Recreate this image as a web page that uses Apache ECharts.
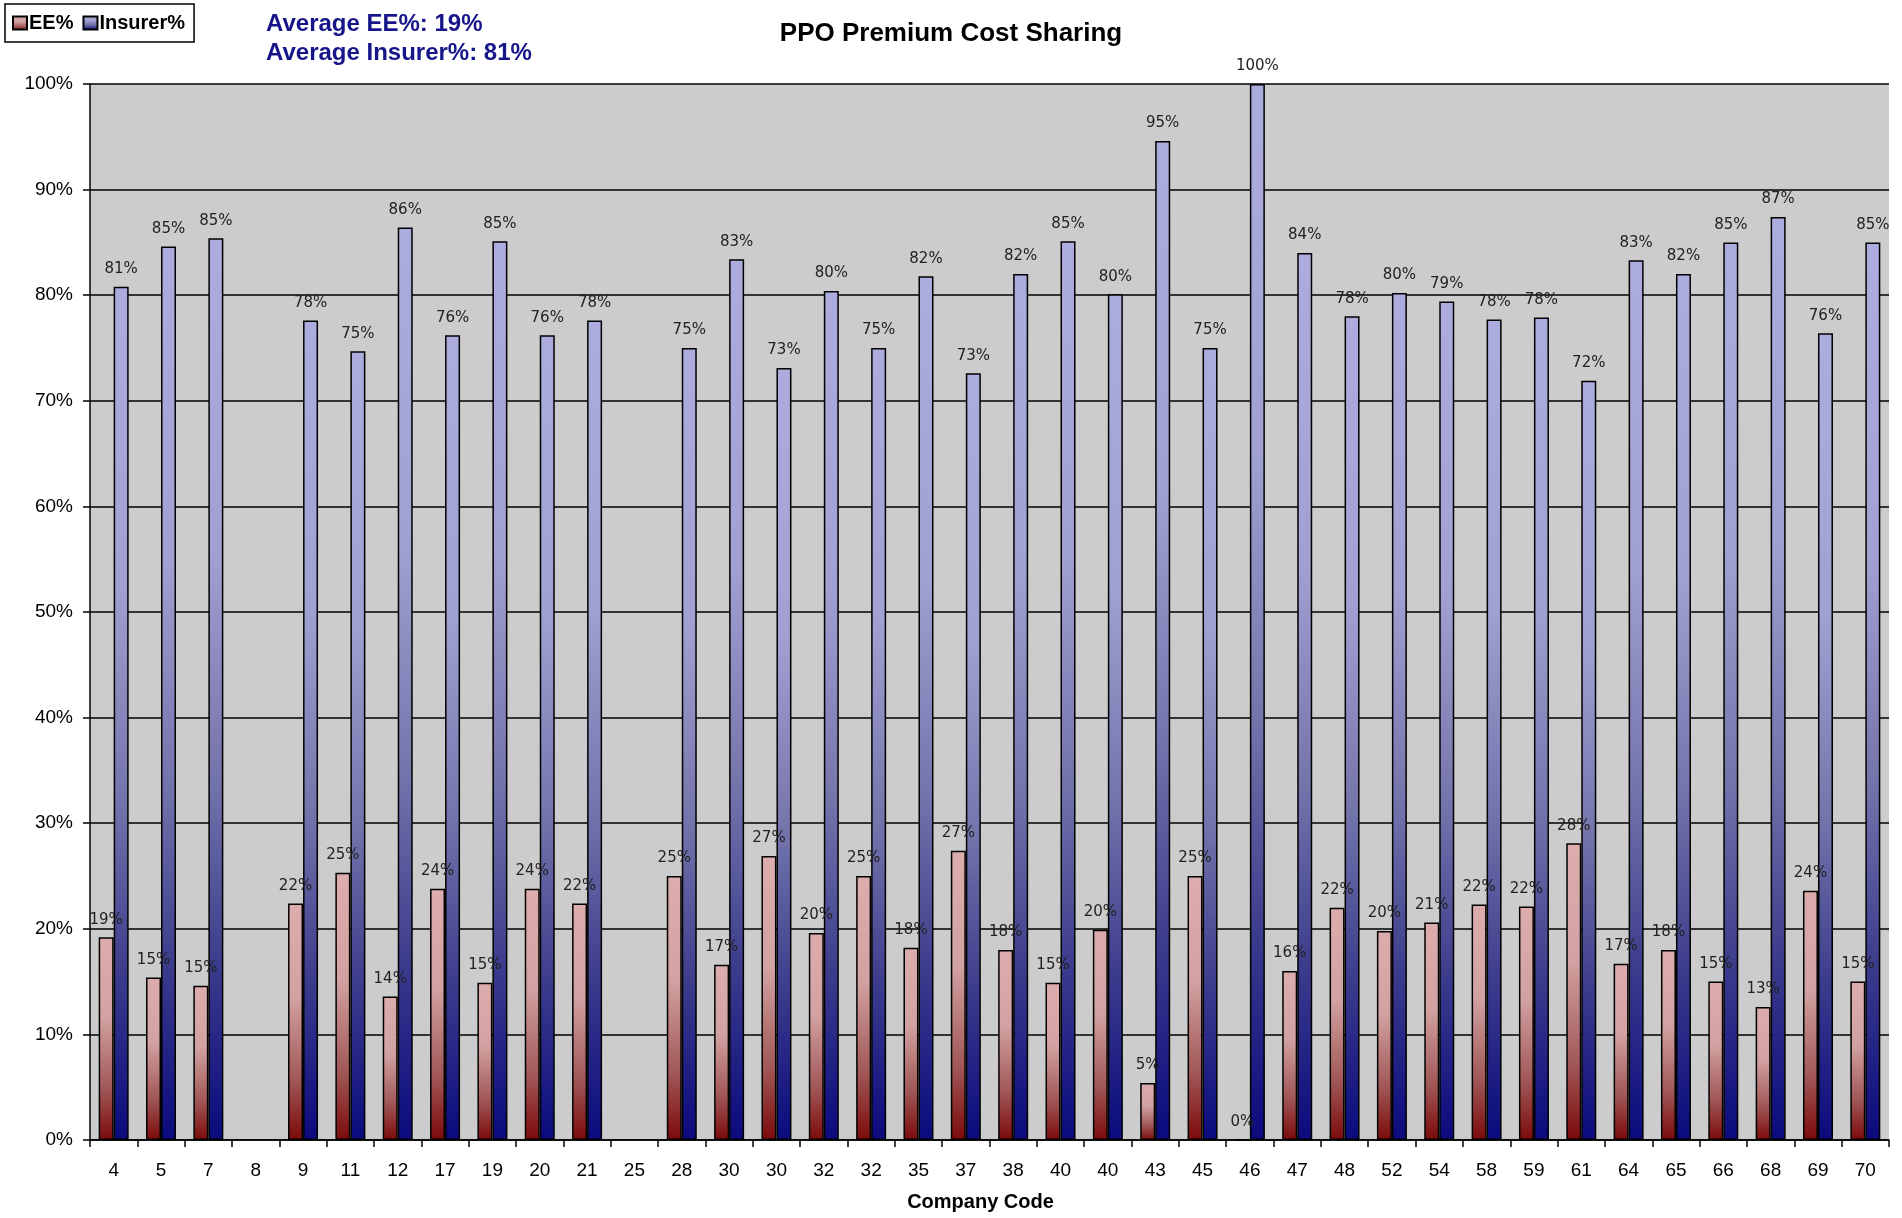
<!DOCTYPE html>
<html>
<head>
<meta charset="utf-8">
<title>PPO Premium Cost Sharing</title>
<script src="https://cdn.jsdelivr.net/npm/echarts@6/dist/echarts.min.js"></script>
<style>
  html, body { margin: 0; padding: 0; background: #fff; }
  #main { width: 1902px; height: 1218px; }
</style>
</head>
<body>
<div id="main"></div>
<script>
// company codes (some repeat, one bar pair per plan)
var companyCodes = ['4', '5', '7', '8', '9', '11', '12', '17', '19', '20', '21', '25', '28', '30', '30', '32', '32', '35', '37', '38',
                    '40', '40', '43', '45', '46', '47', '48', '52', '54', '58', '59', '61', '64', '65', '66', '68', '69', '70'];
// employee share of premium, %
var eePct = [19.2, 15.4, 14.6, null, 22.4, 25.3, 13.6, 23.8, 14.9, 23.8, 22.4, null, 25.0, 16.6, 26.9, 19.6, 25.0, 18.2, 27.4, 18.0,
             14.9, 19.9, 5.4, 25.0, 0, 16.0, 22.0, 19.8, 20.6, 22.3, 22.1, 28.1, 16.7, 18.0, 15.0, 12.6, 23.6, 15.0];
// insurer share of premium, %
var insurerPct = [80.8, 84.6, 85.4, null, 77.6, 74.7, 86.4, 76.2, 85.1, 76.2, 77.6, null, 75.0, 83.4, 73.1, 80.4, 75.0, 81.8, 72.6, 82.0,
                  85.1, 80.1, 94.6, 75.0, 100, 84.0, 78.0, 80.2, 79.4, 77.7, 77.9, 71.9, 83.3, 82.0, 85.0, 87.4, 76.4, 85.0];
var yTicks = [0, 10, 20, 30, 40, 50, 60, 70, 80, 90, 100];
var avgLines = ['Average EE%: 19%', 'Average Insurer%: 81%'];

var eeFill = new echarts.graphic.LinearGradient(0, 0, 0, 1, [
    {offset: 0, color: '#DDACAC'},
    {offset: 0.4, color: '#D2A1A1'},
    {offset: 0.75, color: '#A05656'},
    {offset: 1, color: '#7C0A0A'}
]);
var insFill = new echarts.graphic.LinearGradient(0, 0, 0, 1, [
    {offset: 0, color: '#ACACDE'},
    {offset: 0.35, color: '#A0A0D2'},
    {offset: 0.6, color: '#7474AC'},
    {offset: 0.8, color: '#3D3D8D'},
    {offset: 1, color: '#0A0A7E'}
]);

function pctLabel(p) {
    return Math.round(p.value) + '%';
}

var option = {
    backgroundColor: '#fff',
    animation: false,
    title: [
        {
            text: 'PPO Premium Cost Sharing',
            left: 'center',
            top: 21,
            padding: 0,
            textStyle: {fontFamily: 'Liberation Sans, Arial', fontSize: 26, fontWeight: 'bold', color: '#000'}
        },
        {
            text: avgLines.join('\n'),
            left: 266,
            top: 10,
            padding: 0,
            textStyle: {fontFamily: 'Liberation Sans, Arial', fontSize: 24, fontWeight: 'bold', color: '#16168A', lineHeight: 29}
        }
    ],
    legend: {
        left: 5,
        top: 4,
        padding: [9, 9, 9, 7],
        itemGap: 9,
        itemWidth: 14,
        itemHeight: 13,
        icon: 'rect',
        backgroundColor: '#fff',
        borderColor: '#000',
        borderWidth: 1.5,
        textStyle: {fontFamily: 'Liberation Sans, Arial', fontSize: 20, fontWeight: 'bold', color: '#000', padding: [0, 0, 0, -3]},
        data: ['EE%', 'Insurer%']
    },
    grid: {left: 90, right: 13, top: 84, bottom: 78, show: true, backgroundColor: '#CCCCCC', borderWidth: 0},
    xAxis: {
        type: 'category',
        data: companyCodes,
        name: 'Company Code',
        nameLocation: 'middle',
        nameGap: 52,
        nameTextStyle: {fontFamily: 'Liberation Sans, Arial', fontSize: 20, fontWeight: 'bold', color: '#000', padding: [0, 18, 0, 0]},
        axisLine: {lineStyle: {color: '#000', width: 1.5}},
        axisTick: {show: true, alignWithLabel: false, length: 7, lineStyle: {color: '#000', width: 1.5}},
        axisLabel: {interval: 0, margin: 21, fontFamily: 'Liberation Sans, Arial', fontSize: 19, color: '#000'}
    },
    yAxis: {
        type: 'value',
        min: yTicks[0],
        max: yTicks[yTicks.length - 1],
        interval: 10,
        axisLine: {show: true, lineStyle: {color: '#000', width: 1.5}},
        axisTick: {show: true, length: 7, lineStyle: {color: '#000', width: 1.5}},
        axisLabel: {margin: 17, formatter: '{value}%', fontFamily: 'Liberation Sans, Arial', fontSize: 19, color: '#000'},
        splitLine: {lineStyle: {color: '#000', width: 1.5}}
    },
    series: [
        {
            name: 'EE%',
            type: 'bar',
            data: eePct,
            barWidth: 15,
            barGap: '0%',
            itemStyle: {color: eeFill, borderColor: '#000', borderWidth: 1.5},
            label: {show: true, position: 'top', distance: 10, formatter: pctLabel,
                    fontFamily: 'DejaVu Sans', fontSize: 15, color: '#222'}
        },
        {
            name: 'Insurer%',
            type: 'bar',
            data: insurerPct,
            barWidth: 15,
            barGap: '0%',
            itemStyle: {color: insFill, borderColor: '#000', borderWidth: 1.5},
            label: {show: true, position: 'top', distance: 10, formatter: pctLabel,
                    fontFamily: 'DejaVu Sans', fontSize: 15, color: '#222'}
        }
    ]
};

var myChart = echarts.init(document.getElementById('main'));
myChart.setOption(option);
</script>
</body>
</html>
